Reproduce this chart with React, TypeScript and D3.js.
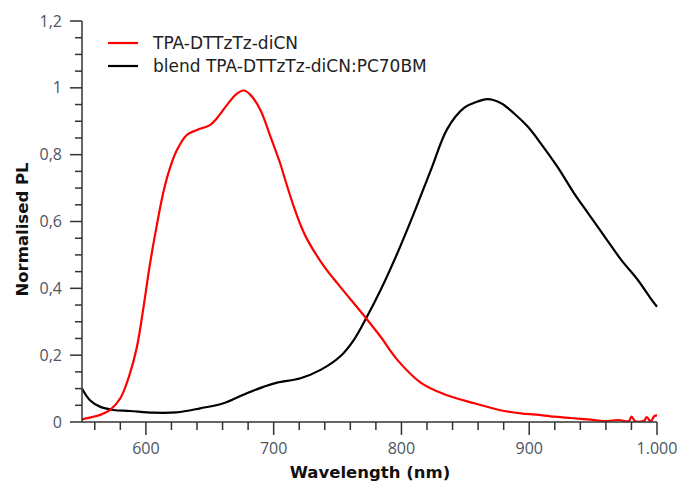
import React, { useEffect } from "react";
import * as d3 from "d3";

const redWavelength = [550, 557, 564, 572, 580, 587.6, 593, 598, 603, 608.6, 613.8, 619, 624.3, 632, 640, 650.4, 655.6, 663.5, 671, 676.5, 681.8, 689.6, 697.5, 705, 709, 715.7, 721, 726, 739, 752, 772, 783.7, 796.8, 815, 833, 857, 876.5, 893.5, 905, 919.7, 932, 946, 959, 970, 978, 980, 983, 990, 992, 995, 998, 1000];
const redPL = [0.008, 0.014, 0.021, 0.036, 0.071, 0.146, 0.225, 0.34, 0.468, 0.59, 0.69, 0.762, 0.814, 0.859, 0.874, 0.889, 0.909, 0.949, 0.982, 0.992, 0.979, 0.934, 0.854, 0.775, 0.725, 0.645, 0.59, 0.548, 0.468, 0.405, 0.312, 0.255, 0.186, 0.118, 0.084, 0.056, 0.036, 0.026, 0.022, 0.016, 0.012, 0.008, 0.003, 0.006, 0.003, 0.016, 0.002, 0.004, 0.015, 0.002, 0.018, 0.02];

const blackWavelength = [550, 556, 564, 574.6, 587.6, 606, 624, 642.5, 660.8, 679, 692, 702.7, 721, 736.7, 752, 762.8, 773, 783.7, 796.8, 809.8, 823, 836, 849, 859.6, 867.5, 878, 888, 898.8, 909, 922, 935, 946, 959, 972, 985, 995, 1000];
const blackPL = [0.1, 0.066, 0.046, 0.036, 0.033, 0.028, 0.029, 0.041, 0.056, 0.086, 0.105, 0.118, 0.131, 0.156, 0.196, 0.246, 0.315, 0.395, 0.505, 0.625, 0.754, 0.878, 0.94, 0.959, 0.966, 0.954, 0.924, 0.884, 0.834, 0.764, 0.685, 0.625, 0.555, 0.485, 0.425, 0.37, 0.345];

const xMajorTicks = [600, 700, 800, 900, 1000];
const xTickLabels = ["600", "700", "800", "900", "1.000"];
const xMinorTicks = [560, 580, 620, 640, 660, 680, 720, 740, 760, 780, 820, 840, 860, 880, 920, 940, 960, 980];
const yMajorTicks = [0, 0.2, 0.4, 0.6, 0.8, 1, 1.2];
const yTickLabels = ["0", "0,2", "0,4", "0,6", "0,8", "1", "1,2"];
const yMinorTicks = [0.05, 0.1, 0.15, 0.25, 0.3, 0.35, 0.45, 0.5, 0.55, 0.65, 0.7, 0.75, 0.85, 0.9, 0.95, 1.05, 1.1, 1.15];

const seriesNames = ["TPA-DTTzTz-diCN", "blend TPA-DTTzTz-diCN:PC70BM"];
const seriesColors = ["#ff0000", "#000000"];

const W = 682;
const H = 487;
const left = 82, right = 657, top = 21, bottom = 422;
const FONT = "'Open Sans', 'DejaVu Sans', sans-serif";
const WIDE = "'DejaVu Sans', sans-serif";
const axisColor = "#333";
const labelColor = "#4d5562";

export default function App() {
  useEffect(() => {
    document.body.style.margin = "0";
  }, []);

  const x = d3.scaleLinear().domain([550, 1000]).range([left, right]);
  const y = d3.scaleLinear().domain([0, 1.2]).range([bottom, top]);

  const line = d3
    .line<[number, number]>()
    .x((d) => x(d[0]))
    .y((d) => y(d[1]))
    .curve(d3.curveCatmullRom.alpha(0.5));

  const redData: [number, number][] = redWavelength.map((w, i) => [w, redPL[i]]);
  const blackData: [number, number][] = blackWavelength.map((w, i) => [w, blackPL[i]]);

  return (
    <svg width={W} height={H} style={{ display: "block", background: "#fff" }} fontFamily={FONT}>
      <defs>
        <clipPath id="plot">
          <rect x={left} y={top - 2} width={right - left + 1} height={bottom - top + 2} />
        </clipPath>
      </defs>

      <g clipPath="url(#plot)" fill="none" strokeWidth={2.2} strokeLinejoin="round">
        <path d={line(blackData) || ""} stroke={seriesColors[1]} />
        <path d={line(redData) || ""} stroke={seriesColors[0]} />
      </g>

      {/* axes */}
      <line x1={left} x2={left} y1={top} y2={bottom} stroke={axisColor} strokeWidth={1.5} />
      <line x1={left} x2={right} y1={bottom} y2={bottom} stroke={axisColor} strokeWidth={1.5} />

      {yMajorTicks.map((t, i) => (
        <g key={"ym" + t}>
          <line x1={left - 12} x2={left} y1={y(t)} y2={y(t)} stroke={axisColor} strokeWidth={1.5} />
          <text x={left - 20} y={y(t)} dy="0.35em" textAnchor="end" fontSize={16} fill={labelColor}>
            {yTickLabels[i]}
          </text>
        </g>
      ))}
      {yMinorTicks.map((t) => (
        <line key={"yn" + t} x1={left - 7} x2={left} y1={y(t)} y2={y(t)} stroke={axisColor} strokeWidth={1.5} />
      ))}

      {xMajorTicks.map((t, i) => (
        <g key={"xm" + t}>
          <line x1={x(t)} x2={x(t)} y1={bottom} y2={bottom + 13} stroke={axisColor} strokeWidth={1.5} />
          <text x={x(t)} y={bottom + 32} textAnchor="middle" fontSize={16} fill={labelColor}>
            {xTickLabels[i]}
          </text>
        </g>
      ))}
      {xMinorTicks.map((t) => (
        <line key={"xn" + t} x1={x(t)} x2={x(t)} y1={bottom} y2={bottom + 8} stroke={axisColor} strokeWidth={1.5} />
      ))}

      <text x={370} y={478} textAnchor="middle" fontSize={16.5} fontWeight="bold" fill="#111" fontFamily={WIDE}>
        Wavelength (nm)
      </text>
      <text
        transform={`translate(28, 229.5) rotate(-90)`}
        textAnchor="middle"
        fontSize={16.5}
        fontWeight="bold"
        fill="#111"
        fontFamily={WIDE}
      >
        Normalised PL
      </text>

      {/* legend */}
      {seriesNames.map((name, i) => (
        <g key={name} transform={`translate(108, ${43 + i * 23})`}>
          <line x1={0} x2={30} y1={0} y2={0} stroke={seriesColors[i]} strokeWidth={2.2} />
          <text x={45} y={0} dy="0.36em" fontSize={17} fill="#222" fontFamily={WIDE}>
            {name}
          </text>
        </g>
      ))}
    </svg>
  );
}
